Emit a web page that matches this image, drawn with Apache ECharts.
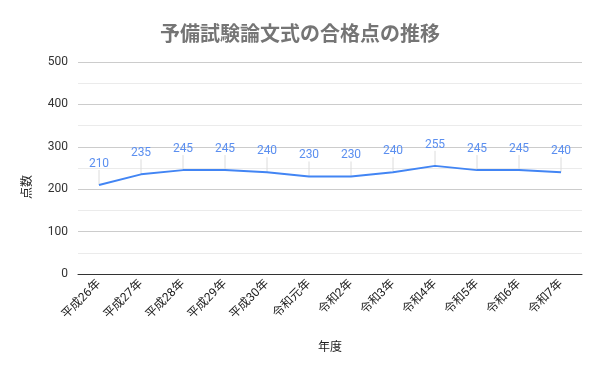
<!DOCTYPE html>
<html><head><meta charset="utf-8">
<script src="https://cdn.jsdelivr.net/npm/echarts@6/dist/echarts.min.js"></script>
<style>html,body{margin:0;padding:0;background:#fff}#c{width:600px;height:371px}</style>
</head><body><div id="c"></div>
<script>
const categories = ['平成26年','平成27年','平成28年','平成29年','平成30年','令和元年','令和2年','令和3年','令和4年','令和5年','令和6年','令和7年'];
const scores = [210,235,245,245,240,230,230,240,255,245,245,240];
const yTicks = [0,100,200,300,400,500];
const FONT = 'Roboto, "Noto Sans CJK JP", sans-serif';
const LEAD = 15;
const chart = echarts.init(document.getElementById('c'));
chart.setOption({
  animation: false,
  title: {text: '予備試験論文式の合格点の推移', left: 'center', top: 18,
    textStyle: {fontFamily: '"Noto Sans CJK JP", sans-serif', fontSize: 20, fontWeight: 'bold', color: '#757575'}},
  graphic: [{type: 'text', x: 26, y: 187, rotation: Math.PI / 2,
    style: {text: '点数', fill: '#222', font: '12px "Noto Sans CJK JP", sans-serif', align: 'center', verticalAlign: 'middle'}}],
  grid: {left: 78, right: 18, top: 62, bottom: 97},
  xAxis: {type: 'category', data: categories, boundaryGap: true,
    name: '年度', nameLocation: 'middle', nameGap: 66,
    nameTextStyle: {fontFamily: '"Noto Sans CJK JP", sans-serif', fontSize: 12, color: '#222'},
    axisLine: {lineStyle: {color: '#333', width: 1}}, axisTick: {show: false},
    axisLabel: {rotate: 45, fontFamily: FONT, fontSize: 12, color: '#222', margin: 8, interval: 0}},
  yAxis: {type: 'value', min: yTicks[0], max: yTicks[yTicks.length-1], interval: 100,
    axisLine: {show: false}, axisTick: {show: false},
    axisLabel: {fontFamily: FONT, fontSize: 12, color: '#333', margin: 10},
    splitLine: {lineStyle: {color: '#cccccc'}},
    minorTick: {show: false, splitNumber: 2},
    minorSplitLine: {show: true, lineStyle: {color: '#ebebeb'}}},
  series: [
    {type: 'custom', data: scores.map((v, i) => [i, v]), silent: true, z: 1,
      renderItem: function (params, api) {
        const p = api.coord([api.value(0), api.value(1)]);
        return {type: 'line', shape: {x1: p[0], y1: p[1], x2: p[0], y2: p[1] - LEAD},
          style: {stroke: '#dcdcdc', lineWidth: 1}};
      }},
    {type: 'line', data: scores, symbol: 'circle', symbolSize: 0, showSymbol: true, smooth: false, z: 3,
      lineStyle: {color: '#4285F4', width: 2}, itemStyle: {color: '#4285F4'},
      label: {show: true, position: 'top', distance: LEAD, fontFamily: FONT, fontSize: 12, color: '#5b8ff0'}}
  ]
});
</script></body></html>
